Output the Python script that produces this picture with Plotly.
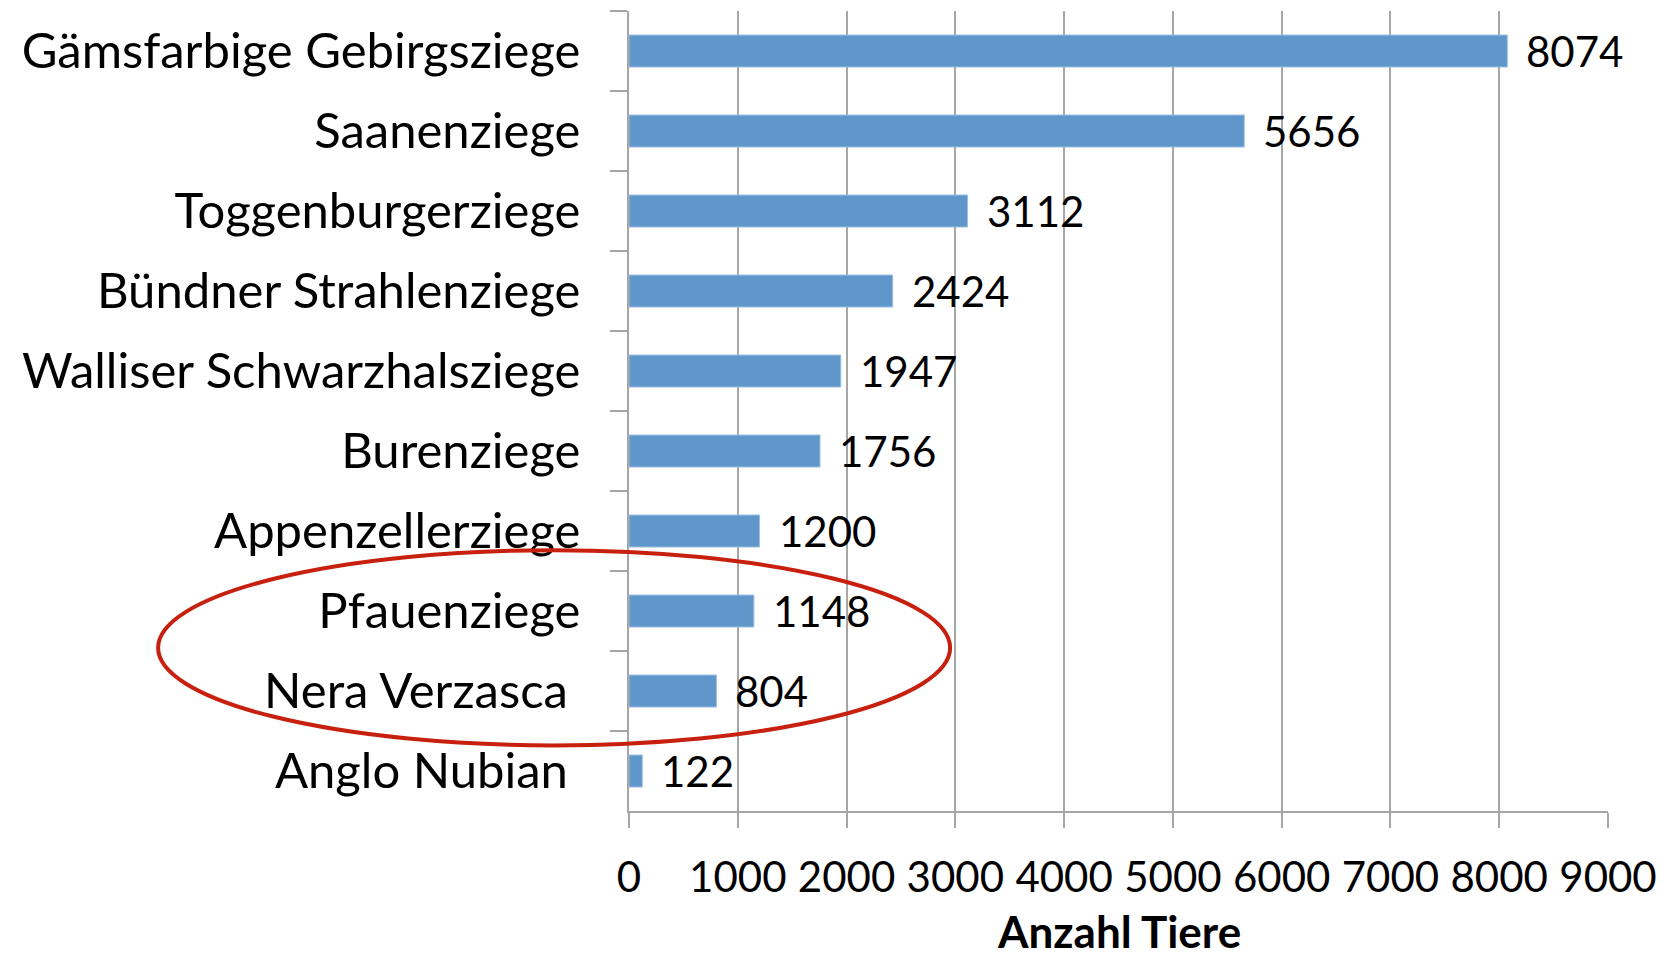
import plotly.graph_objects as go

breeds = ["Gämsfarbige Gebirgsziege", "Saanenziege", "Toggenburgerziege",
          "Bündner Strahlenziege", "Walliser Schwarzhalsziege", "Burenziege",
          "Appenzellerziege", "Pfauenziege", "Nera Verzasca\u00a0", "Anglo Nubian\u00a0"]
counts = [8074, 5656, 3112, 2424, 1947, 1756, 1200, 1148, 804, 122]
x_ticks = [0, 1000, 2000, 3000, 4000, 5000, 6000, 7000, 8000, 9000]
x_title = "Anzahl Tiere"

FONT = "Lato"
GRID = "#A6A6A6"

fig = go.Figure()
fig.add_trace(go.Bar(
    x=counts, y=breeds, orientation="h",
    marker=dict(color="#6097CA", line=dict(color="#9DBEE0", width=1)),
    width=0.4, showlegend=False, hoverinfo="x+y",
))

for b, v in zip(breeds, counts):
    fig.add_annotation(x=v, y=b, text=str(v), showarrow=False,
                       xanchor="left", yanchor="middle", xshift=17,
                       font=dict(family=FONT, size=42, color="#000000"))

# axis title
fig.add_annotation(xref="paper", yref="paper", x=0.5, y=-0.185,
                   xanchor="center", yanchor="bottom", showarrow=False,
                   text="<b>" + x_title + "</b>",
                   font=dict(family=FONT, size=44, color="#000000"))

fig.add_shape(type="circle", xref="paper", yref="paper",
              x0=-0.481, x1=0.328, y0=0.082, y1=0.326,
              line=dict(color="#C8200E", width=4), fillcolor="rgba(0,0,0,0)")

# page body has an 8px default margin; figure is sized so it fills the window
fig.update_layout(
    width=1660, height=951,
    margin=dict(l=621, r=60, t=3, b=148),
    paper_bgcolor="white", plot_bgcolor="white",
    font=dict(family=FONT, size=42, color="#000000"),
    xaxis=dict(
        range=[0, 9000], tickvals=x_ticks, ticktext=[str(t) for t in x_ticks],
        showgrid=True, gridcolor=GRID, gridwidth=1.5,
        showline=True, linecolor=GRID, linewidth=1.5,
        ticks="outside", ticklen=15, tickcolor=GRID, tickwidth=1.5,
        ticklabelstandoff=14, zeroline=False, automargin=False,
        tickfont=dict(family=FONT, size=42),
    ),
    yaxis=dict(
        autorange="reversed", type="category",
        showline=True, linecolor=GRID, linewidth=1.5,
        ticks="outside", ticklen=17, tickcolor=GRID, tickwidth=1.5,
        tickson="boundaries", showgrid=False, automargin=False,
        ticklabelstandoff=37,
        tickfont=dict(family=FONT, size=49),
    ),
)

fig.write_html("out.html")
